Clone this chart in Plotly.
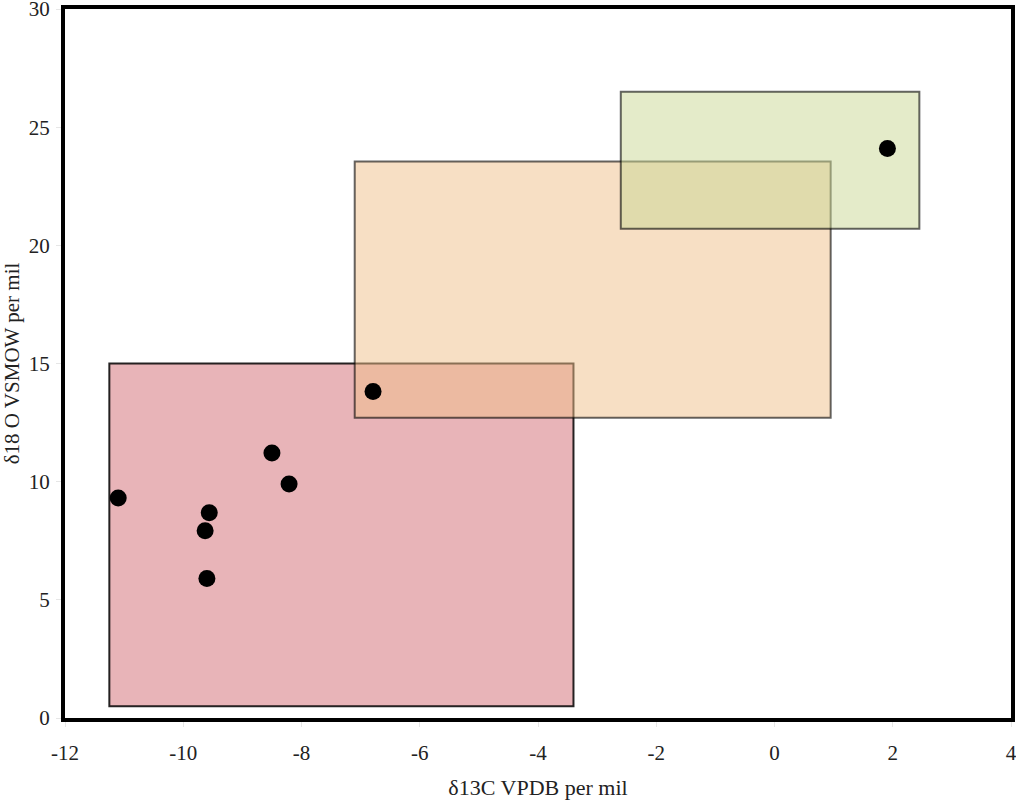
import plotly.graph_objects as go

# Sample points
d13c = [-11.1, -9.56, -9.63, -9.6, -8.5, -8.21, -6.79, 1.91]
d18o = [9.31, 8.68, 7.92, 5.9, 11.21, 9.9, 13.82, 24.1]

# Field boxes: [x0, x1, y0, y1]
box_names = ["red", "orange", "green"]
box_x0 = [-11.25, -7.1, -2.6]
box_x1 = [-3.4, 0.95, 2.45]
box_y0 = [0.5, 12.7, 20.7]
box_y1 = [15.0, 23.55, 26.5]
box_fill = ["rgba(209,105,113,0.5)", "rgba(239,191,137,0.5)", "rgba(201,215,147,0.5)"]
box_line = ["rgba(0,0,0,0.85)", "rgba(0,0,0,0.6)", "rgba(0,0,0,0.6)"]

x_ticks = [-12, -10, -8, -6, -4, -2, 0, 2, 4]
x_ticktext = ["-12", "-10", "-8", "-6", "-4", "-2", "0", "2", "4"]
y_ticks = [0, 5, 10, 15, 20, 25, 30]

fig = go.Figure()

for i in range(len(box_names)):
    fig.add_shape(type="rect", xref="x", yref="y",
                  x0=box_x0[i], x1=box_x1[i], y0=box_y0[i], y1=box_y1[i],
                  fillcolor=box_fill[i],
                  line=dict(color=box_line[i], width=2),
                  layer="below")

fig.add_trace(go.Scatter(x=d13c, y=d18o, mode="markers",
                         marker=dict(color="black", size=17),
                         showlegend=False))

family = "Liberation Serif, Times New Roman, serif"
font = dict(family=family, size=21, color="#222")

fig.update_layout(
    width=1016, height=800,
    margin=dict(l=65, r=5, t=9, b=82),
    paper_bgcolor="white", plot_bgcolor="white",
    font=font,
    showlegend=False,
)
fig.update_xaxes(range=[-12, 4], tickvals=x_ticks, ticktext=x_ticktext,
                 showgrid=False, zeroline=False, automargin=False,
                 ticklabeloverflow="allow",
                 showline=True, mirror=True, linewidth=4, linecolor="black",
                 ticks="outside", ticklen=5, tickcolor="#e6e6e6",
                 ticklabelstandoff=8,
                 title=dict(text="δ13C VPDB per mil",
                            font=dict(family=family, size=22, color="#222"),
                            standoff=20),
                 tickfont=font)
fig.update_yaxes(range=[0, 30], tickvals=y_ticks, showgrid=False, zeroline=False,
                 automargin=False, ticklabeloverflow="allow",
                 showline=True, mirror=True, linewidth=4, linecolor="black",
                 ticks="outside", ticklen=5, tickcolor="#e6e6e6",
                 ticklabelstandoff=2,
                 title=dict(text="δ18 O VSMOW per mil",
                            font=dict(family=family, size=21, color="#222"),
                            standoff=7),
                 tickfont=font)

fig.write_html("out.html",
               config={"displayModeBar": False},
               post_script="document.body.style.margin='0px';document.body.style.padding='0px';")
